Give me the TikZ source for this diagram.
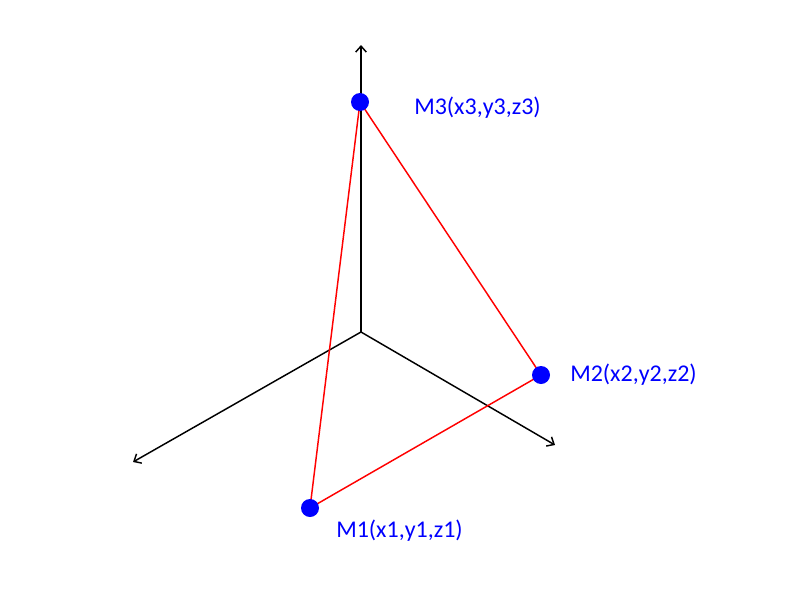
\documentclass[tikz,border=0pt]{standalone}
\usepackage{fontspec}
\setmainfont{Carlito}
\usetikzlibrary{arrows.meta}
\begin{document}
\begin{tikzpicture}[x=0.75pt,y=-0.75pt,
  axis/.style={draw=black,line width=1.1pt,-{Straight Barb[length=4.5pt,width=8pt]}},
  edge/.style={draw=red,line width=1.1pt},
  pt/.style={circle,fill=blue,inner sep=0pt,minimum size=13.5pt},
  lbl/.style={anchor=west,text=blue,font=\fontsize{18pt}{20pt}\selectfont,inner sep=0pt}]
\useasboundingbox (0,0) rectangle (800,600);
\coordinate (O) at (361,332);
\coordinate (Z) at (361,45);
\coordinate (X) at (133,462);
\coordinate (Y) at (555,445);
\draw[axis] (O) -- (Z);
\draw[axis] (O) -- (X);
\draw[axis] (O) -- (Y);
\coordinate (P3) at (360,102);
\coordinate (P2) at (541,375);
\coordinate (P1) at (310,508);
\draw[edge] (P3) -- (P1) -- (P2) -- (P3);
\node[pt] (M3) at (P3) {};
\node[pt] (M2) at (P2) {};
\node[pt] (M1) at (P1) {};
\node[lbl] (L3) at (414,108) {M3(x3,y3,z3)};
\node[lbl] (L2) at (570,375) {M2(x2,y2,z2)};
\node[lbl] (L1) at (336,531) {M1(x1,y1,z1)};
\end{tikzpicture}
\end{document}
